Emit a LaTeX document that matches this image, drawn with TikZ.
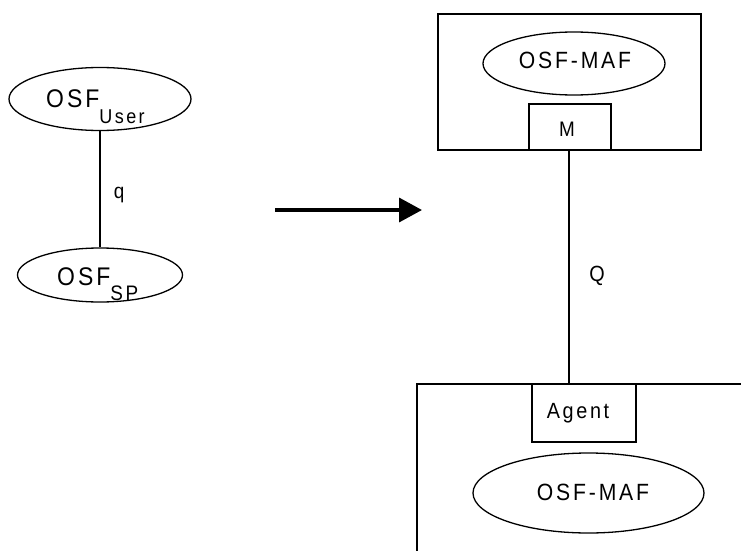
\documentclass[tikz,border=0pt]{standalone}
\usepackage{fontspec}
\setmainfont{Liberation Sans}[LetterSpace=12,FakeStretch=0.9]
\usetikzlibrary{shapes.geometric,arrows.meta}
\begin{document}
\begin{tikzpicture}[x=1pt,y=-1pt,
  oval/.style={draw,ellipse,line width=1.3pt,inner sep=0pt},
  panel/.style={draw,line width=1.5pt},
  lbl/.style={inner sep=0pt,anchor=base},
  big/.style={font=\fontsize{23.5}{27}\selectfont},
  mid/.style={font=\fontsize{21}{25}\selectfont}]
\useasboundingbox (0,0) rectangle (741,551);
% left part
\node[oval,minimum width=182pt,minimum height=63pt] (user) at (100,99) {};
\node[oval,minimum width=165pt,minimum height=54pt] (sp) at (100,275) {};
\node[lbl,anchor=base west,font=\fontsize{25.5}{29}\selectfont] (usert) at (46,107)
  {OSF\raisebox{-16pt}{\fontsize{20}{24}\selectfont User}};
\node[lbl,anchor=base west,font=\fontsize{25.5}{29}\selectfont] (spt) at (57,285)
  {OSF\raisebox{-15.5pt}{\fontsize{21}{25}\selectfont SP}};
\draw[line width=1.5pt] (user.south) -- (sp.north)
  node[pos=0.55,right=13pt,inner sep=0pt,font=\fontsize{21}{25}\selectfont] (q) {q};
% arrow
\coordinate (a1) at (275,210);
\coordinate (a2) at (422,210);
\draw[line width=3.5pt,-{Triangle[length=23pt,width=24pt]}] (a1) -- (a2);
% top right
\draw[panel] (438,14) coordinate (tb1) rectangle (701,150) coordinate (tb2);
\node[oval,minimum width=182pt,minimum height=63pt] (maf1) at (574,63.5) {};
\node[lbl,big] (maf1t) at (575,68.5) {OSF-MAF};
\node[panel,minimum width=82pt,minimum height=46pt,inner sep=0pt] (m) at (570,127) {};
\node[lbl,mid] (mt) at (567,136) {M};
% bottom right
\draw[panel] (745,384) -- (417,384) -- (417,555);
\node[panel,minimum width=104pt,minimum height=58pt,inner sep=0pt] (agent) at (584,413) {};
\node[lbl,font=\fontsize{22}{26}\selectfont] (agentt) at (578,418) {Agent};
\node[oval,minimum width=231pt,minimum height=80pt] (maf2) at (588.5,493) {};
\node[lbl,big] (maf2t) at (593,500) {OSF-MAF};
% Q connector
\coordinate (qt) at (569,150);
\coordinate (qb) at (569,384);
\draw[line width=2.5pt] (qt) -- (qb);
\node[lbl,font=\fontsize{22}{26}\selectfont] (Q) at (597,281) {Q};
\end{tikzpicture}
\end{document}
